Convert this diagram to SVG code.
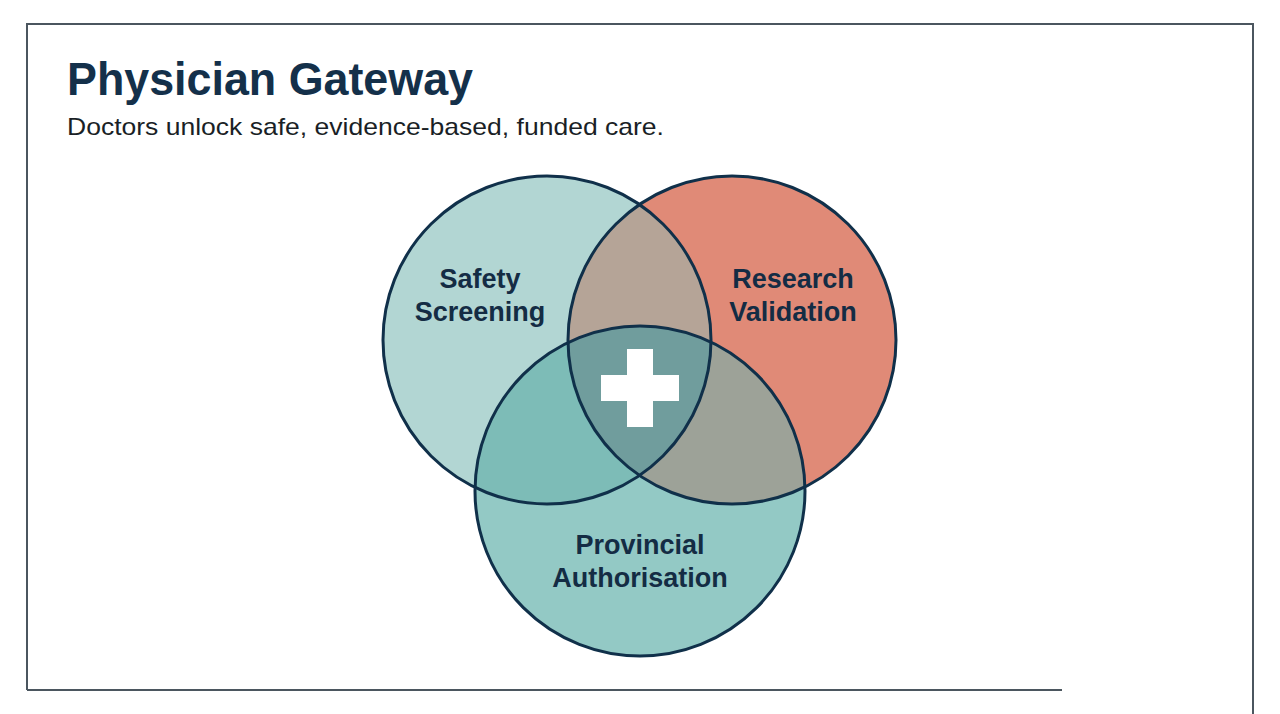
<svg xmlns="http://www.w3.org/2000/svg" width="1280" height="714" viewBox="0 0 1280 714">
<style>
.frame{fill:none;stroke:#4b565f;stroke-width:2}
.ring{fill:none;stroke:#10304a;stroke-width:3}
.lbl{font-family:"Liberation Sans",Arial,sans-serif;font-weight:bold;font-size:27px;fill:#142c44;text-anchor:middle}
.title{font-family:"Liberation Sans",Arial,sans-serif;font-weight:bold;font-size:46px;fill:#14304a}
.sub{font-family:"Liberation Sans",Arial,sans-serif;font-size:24px;fill:#1a1f26}
</style>
<defs>
<clipPath id="clipA"><circle cx="547" cy="340" r="164"/></clipPath>
<clipPath id="clipB"><circle cx="732" cy="340" r="164"/></clipPath>
<clipPath id="clipC"><circle cx="640" cy="491" r="165"/></clipPath>
</defs>
<rect width="1280" height="714" fill="#ffffff"/>
<g id="frame">
<path class="frame" d="M27 690 V24 H1253 V714"/>
<path class="frame" d="M27 690 H1062"/>
</g>
<g id="title">
<text class="title" x="67" y="95" textLength="406" lengthAdjust="spacingAndGlyphs">Physician Gateway</text>
<text class="sub" x="67" y="135" textLength="597" lengthAdjust="spacingAndGlyphs">Doctors unlock safe, evidence-based, funded care.</text>
</g>
<g id="safety">
<circle cx="547" cy="340" r="164" fill="#b2d6d3"/>
</g>
<g id="research">
<circle cx="732" cy="340" r="164" fill="#e08a77"/>
</g>
<g id="provincial">
<circle cx="640" cy="491" r="165" fill="#93c9c5"/>
</g>
<g id="overlaps">
<g clip-path="url(#clipA)"><circle cx="732" cy="340" r="164" fill="#b5a497"/></g>
<g clip-path="url(#clipA)"><circle cx="640" cy="491" r="165" fill="#7dbcb7"/></g>
<g clip-path="url(#clipB)"><circle cx="640" cy="491" r="165" fill="#9da298"/></g>
<g clip-path="url(#clipA)"><g clip-path="url(#clipB)"><circle cx="640" cy="491" r="165" fill="#709d9d"/></g></g>
</g>
<g id="outlines">
<circle class="ring" cx="547" cy="340" r="164"/>
<circle class="ring" cx="732" cy="340" r="164"/>
<circle class="ring" cx="640" cy="491" r="165"/>
</g>
<g id="cross">
<rect x="627" y="349" width="26" height="78" fill="#ffffff"/>
<rect x="601" y="375" width="78" height="26" fill="#ffffff"/>
</g>
<g id="labels">
<text class="lbl" x="480" y="288">Safety</text>
<text class="lbl" x="480" y="321">Screening</text>
<text class="lbl" x="793" y="288">Research</text>
<text class="lbl" x="793" y="321">Validation</text>
<text class="lbl" x="640" y="554">Provincial</text>
<text class="lbl" x="640" y="587">Authorisation</text>
</g>
</svg>
